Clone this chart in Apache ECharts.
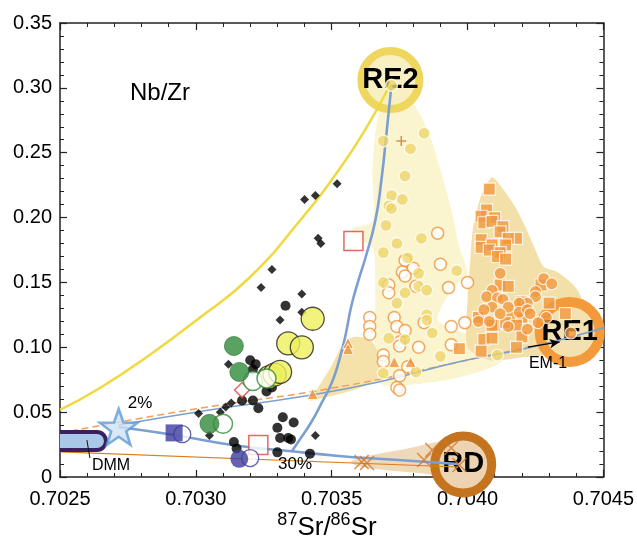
<!DOCTYPE html>
<html><head><meta charset="utf-8">
<script src="https://cdn.jsdelivr.net/npm/echarts@6/dist/echarts.min.js"></script>
<style>html,body{margin:0;padding:0;background:#fff}#c{width:637px;height:543px}</style>
</head><body><div id="c"></div>
<script>
// ---- axis / ticks ----
const xMin = 0.7025, xMax = 0.7045, xStep = 0.0005;
const yMin = 0, yMax = 0.35, yStep = 0.05;

// ---- fields (shaded regions) ----
const yellowField = [[0.70372,0.297],[0.70376,0.296],[0.70381,0.285],[0.70386,0.264],[0.70390,0.237],[0.70394,0.206],[0.70397,0.177],[0.70400,0.156],[0.70395,0.147],[0.70389,0.121],[0.70400,0.110],[0.70411,0.100],[0.70413,0.090],[0.70407,0.083],[0.70393,0.075],[0.70378,0.071],[0.70369,0.071],[0.70366,0.079],[0.70366,0.113],[0.70366,0.152],[0.70365,0.177],[0.70357,0.186],[0.70358,0.192],[0.70365,0.197],[0.70365,0.237],[0.70367,0.277]];
const tanField = [[0.70342,0.059],[0.70345,0.069],[0.70350,0.086],[0.70354,0.102],[0.70358,0.108],[0.70364,0.106],[0.70367,0.096],[0.70367,0.076],[0.70358,0.067],[0.70347,0.061]];
const re1Field = [[0.70409,0.231],[0.70412,0.225],[0.70417,0.210],[0.70421,0.194],[0.70425,0.175],[0.70428,0.162],[0.70433,0.158],[0.70439,0.148],[0.70442,0.137],[0.70441,0.110],[0.70433,0.096],[0.70419,0.092],[0.70408,0.090],[0.70400,0.100],[0.70400,0.137],[0.70401,0.167],[0.70402,0.192],[0.70405,0.217]];
const rdField = [[0.70357,0.012],[0.70365,0.017],[0.70378,0.022],[0.70389,0.027],[0.70397,0.027],[0.70397,-0.004],[0.70386,0.002],[0.70371,0.005],[0.70360,0.008]];

// ---- mixing curves ----
const yellowCurve = [[0.70250,0.0517],[0.702647,0.0686],[0.702830,0.0941],[0.703013,0.1226],[0.703196,0.1534],[0.703379,0.1966],[0.703526,0.2367],[0.703636,0.2722],[0.703716,0.3030]];
const blueLower = [[0.702716,0.0386],[0.702921,0.0324],[0.703134,0.0247],[0.703342,0.0200],[0.703526,0.0162],[0.703745,0.0131],[0.703965,0.0100]];
const blueToRE2 = [[0.703354,0.0200],[0.703379,0.0278],[0.703423,0.0416],[0.703463,0.0571],[0.703500,0.0725],[0.703526,0.0887],[0.703551,0.1095],[0.703573,0.1326],[0.703599,0.1519],[0.703625,0.1696],[0.703661,0.1981],[0.703683,0.2290],[0.703701,0.2637],[0.703720,0.3022]];
const blueThin = [[0.702716,0.0401],[0.703050,0.0517],[0.703379,0.0617],[0.703672,0.0732],[0.703965,0.0887],[0.704222,0.0995],[0.704500,0.1149]];
const orangeDashed = [[0.70250,0.0339],[0.702976,0.0517],[0.703526,0.0694],[0.704002,0.0902],[0.704258,0.1018]];
const orangeSolid = [[0.70250,0.0193],[0.703965,0.0077]];
const dmmBar = [[0.70240,0.0278],[0.702636,0.0278]];
const dmmPointer = [[0.702599,0.0285],[0.702610,0.0146]];
const em1Arrow = [[0.704222,0.1002],[0.704339,0.1041]];

// ---- end members ----
const re2 = [0.703716, 0.306];
const re1 = [0.704376, 0.1118];
const rd = [0.703984, 0.0097];
const star = [0.702716, 0.0386];

// ---- samples ----
const blackDots = [[0.70333,0.132],[0.70320,0.090],[0.70322,0.087],[0.70321,0.083],[0.70328,0.069],[0.70326,0.066],[0.70321,0.059],[0.70317,0.059],[0.70323,0.053],[0.70332,0.046],[0.70336,0.042],[0.70330,0.038],[0.70331,0.030],[0.70334,0.030],[0.70330,0.019],[0.70314,0.027],[0.70315,0.022],[0.70342,0.018],[0.70335,0.029]];
const blackDiamonds = [[0.70352,0.226],[0.70340,0.214],[0.70344,0.217],[0.70345,0.184],[0.70346,0.180],[0.70328,0.160],[0.70324,0.146],[0.70339,0.141],[0.70339,0.127],[0.70331,0.121],[0.70312,0.087],[0.70313,0.057],[0.70311,0.054],[0.70309,0.050],[0.70301,0.049],[0.70305,0.032],[0.70344,0.032]];
const greenFilled = [[0.70314,0.101],[0.70316,0.081],[0.70305,0.041]];
const greenOpen = [[0.70321,0.074],[0.70326,0.076],[0.70310,0.041]];
const yellowBig = [[0.70343,0.122],[0.70334,0.103],[0.70339,0.100],[0.70327,0.077],[0.70329,0.079],[0.70331,0.081]];
const navyOpen = [[0.70320,0.0146],[0.70295,0.033]];
const navyFilled = [[0.70316,0.014]];
const navySquare = [[0.70292,0.034]];
const redSquares = [[0.70358,0.182],[0.70323,0.0247]];
const redDiamond = [[0.70317,0.067]];
const orangeTriangles = [[0.70356,0.1033],[0.70356,0.0987],[0.70343,0.064],[0.70373,0.0887],[0.70379,0.0887]];
const orangeCrosses = [[0.70361,0.0116],[0.70363,0.0108],[0.70384,0.0131],[0.70387,0.0208],[0.70394,0.0224],[0.70397,0.0093]];
const plusMarks = [[0.703756,0.259]];
const yellowDots = [[0.70372,0.302],[0.70369,0.259],[0.70384,0.265],[0.70379,0.253],[0.70377,0.232],[0.70372,0.217],[0.70376,0.214],[0.70371,0.209],[0.70372,0.207],[0.70370,0.194],[0.70374,0.180],[0.70383,0.184],[0.70369,0.173],[0.70378,0.169],[0.70382,0.157],[0.70396,0.159],[0.70369,0.150],[0.70382,0.147],[0.70385,0.144],[0.70377,0.142],[0.70374,0.134],[0.70385,0.125],[0.70385,0.121],[0.70387,0.111],[0.70371,0.107],[0.70377,0.106],[0.70390,0.093],[0.70369,0.080],[0.70381,0.081],[0.70411,0.094]];
const orangeOpen = [[0.70389,0.188],[0.70390,0.164],[0.70377,0.167],[0.70380,0.161],[0.70376,0.158],[0.70377,0.155],[0.70381,0.147],[0.70371,0.148],[0.70371,0.142],[0.70393,0.146],[0.70400,0.150],[0.70364,0.123],[0.70364,0.116],[0.70364,0.110],[0.70373,0.123],[0.70374,0.116],[0.70377,0.113],[0.70384,0.119],[0.70394,0.116],[0.70399,0.119],[0.70375,0.104],[0.70375,0.101],[0.70382,0.100],[0.70394,0.102],[0.70369,0.094],[0.70369,0.089],[0.70378,0.085],[0.70375,0.078],[0.70374,0.069],[0.70375,0.067]];
const orangeSquares = [[0.70408,0.222],[0.70407,0.206],[0.70405,0.201],[0.70410,0.200],[0.70406,0.196],[0.70409,0.197],[0.70413,0.193],[0.70412,0.189],[0.70418,0.184],[0.70415,0.184],[0.70405,0.183],[0.70405,0.177],[0.70409,0.179],[0.70408,0.175],[0.70414,0.179],[0.70412,0.173],[0.70411,0.170],[0.70414,0.168],[0.70412,0.148],[0.70415,0.147],[0.70427,0.148],[0.70420,0.135],[0.70430,0.134],[0.70416,0.123],[0.70404,0.123],[0.70410,0.117],[0.70409,0.117],[0.70414,0.119],[0.70420,0.123],[0.70418,0.117],[0.70406,0.106],[0.70409,0.107],[0.70420,0.108],[0.70418,0.100],[0.70405,0.097],[0.70436,0.126],[0.70397,0.099]];
const orangeDots = [[0.70412,0.157],[0.70428,0.153],[0.70431,0.149],[0.70409,0.144],[0.70407,0.139],[0.70411,0.138],[0.70413,0.137],[0.70425,0.143],[0.70425,0.139],[0.70422,0.134],[0.70419,0.134],[0.70415,0.131],[0.70409,0.131],[0.70406,0.129],[0.70412,0.126],[0.70419,0.127],[0.70422,0.129],[0.70423,0.126],[0.70404,0.120],[0.70408,0.120],[0.70415,0.116],[0.70422,0.114],[0.70429,0.123],[0.70426,0.119],[0.70438,0.111]];

const FONT = 'Liberation Sans, Arial, Helvetica, sans-serif';
const chart = echarts.init(document.getElementById('c'), null, {renderer:'canvas'});

function poly(data, color, z){
  return {type:'custom', z:z, silent:true, clip:true, data:[data[0]],
    renderItem:function(params, api){
      const pts = data.map(p => api.coord(p));
      return {type:'polygon', shape:{points:pts, smooth:0.25}, style:{fill:color}};
    }};
}
function capsule(data, z){
  return {type:'custom', z:z, silent:true, clip:true, data:[data[0]],
    renderItem:function(params, api){
      const a = api.coord(data[0]), b = api.coord(data[1]);
      const w = b[0]-a[0];
      return {type:'group', children:[
        {type:'rect', shape:{x:a[0]-11, y:a[1]-11, width:w+22, height:22, r:11}, style:{fill:'#3a2060'}},
        {type:'rect', shape:{x:a[0]-7, y:a[1]-7, width:w+14, height:14, r:7}, style:{fill:'#a9c8e8'}}
      ]};
    }};
}
function line(data, color, width, z, extra){
  return Object.assign({type:'line', data:data, z:z, silent:true, symbol:'none', smooth:true, clip:true,
    lineStyle:{color:color, width:width}}, extra||{});
}
function scat(data, symbol, size, style, z){
  return {type:'scatter', data:data, symbol:symbol, symbolSize:size, itemStyle:style, z:z, silent:true};
}
function ring(pos, name, size, fill, border, bw, z){
  return {type:'scatter', z:z, silent:true, data:[{value:pos, name:name}], symbolSize:size,
    itemStyle:{color:fill, borderColor:border, borderWidth:bw, opacity:1},
    label:{show:true, position:'inside', formatter:'{b}', fontSize:29, fontWeight:'bold', color:'#000',
      fontFamily:'Liberation Sans Narrow, Liberation Sans, Arial'}};
}

const axisCommon = {
  type:'value', splitLine:{show:false},
  axisLine:{show:true, onZero:false, lineStyle:{color:'#222', width:1.5}},
  axisTick:{show:true, inside:true, length:7, lineStyle:{color:'#222', width:1.2}},
  minorTick:{show:true, splitNumber:5, length:4, lineStyle:{color:'#222', width:1}},
};
const xa = Object.assign({}, axisCommon, {min:xMin, max:xMax, interval:xStep});
const ya = Object.assign({}, axisCommon, {min:yMin, max:yMax, interval:yStep});

const option = {
  animation:false,
  backgroundColor:'#fff',
  grid:{left:60, right:31, top:23, bottom:66},
  xAxis:[
    Object.assign({}, xa, {position:'bottom', axisLabel:{margin:12, fontSize:20, color:'#000', fontFamily:FONT, formatter:v=>v.toFixed(4)}}),
    Object.assign({}, xa, {position:'top', axisLabel:{show:false}})
  ],
  yAxis:[
    Object.assign({}, ya, {position:'left', axisLabel:{margin:8, fontSize:20, color:'#000', fontFamily:FONT, formatter:v=> v===0?'0':v.toFixed(2)}}),
    Object.assign({}, ya, {position:'right', axisLabel:{show:false}})
  ],
  series:[
    poly(yellowField, '#faf4cf', 1),
    poly(tanField, '#f4e2aa', 1),
    poly(re1Field, '#f3e0a8', 1),
    poly(rdField, '#f0d9bb', 1),
    ring(re2, 'RE2', 58, '#f8f0c2', '#efd65e', 8, 2),
    ring(re1, 'RE1', 60, '#f3e1b0', '#f39a3c', 10, 2),
    ring(rd, 'RD', 57, '#eed3b2', '#c4741f', 9, 2),
    line(yellowCurve, '#f0d93f', 2.5, 3),
    line(orangeSolid, '#d8801f', 1.2, 3, {smooth:false}),
    line(orangeDashed, '#f2a055', 1.5, 3, {lineStyle:{color:'#f2a055', width:1.5, type:[7,4]}}),
    line(blueThin, '#7c9fd1', 1.5, 3),
    line(blueLower, '#7c9fd1', 2.6, 3),
    line(blueToRE2, '#7c9fd1', 2.6, 3),
    capsule(dmmBar, 4),
    line(dmmPointer, '#111', 1, 4, {smooth:false}),
    {type:'line', data:[], z:4, silent:true, markLine:{silent:true, symbol:['none','arrow'], symbolSize:[7,10], label:{show:false},
      lineStyle:{color:'#000', width:1.3, type:'solid'}, data:[[{coord:em1Arrow[0]},{coord:em1Arrow[1]}]]}},
    scat([star], 'path://M50,2 L61.8,36.2 L97.6,36.9 L69,58.7 L79.4,93.1 L50,72.5 L20.6,93.1 L31,58.7 L2.4,36.9 L38.2,36.2 Z', [38,36], {color:'#cfe2f4', borderColor:'#5e9ad6', borderWidth:2.5}, 5),
    scat(orangeOpen, 'circle', 12, {color:'#fff', borderColor:'#f0953c', borderWidth:1.5}, 5),
    scat(yellowDots, 'circle', 12, {color:'#eed66a', borderColor:'#fff', borderWidth:1.3}, 5),
    scat(orangeSquares, 'rect', 12, {color:'#f0983f', borderColor:'#fff', borderWidth:1.2}, 5),
    scat(orangeDots, 'circle', 12, {color:'#f0983f', borderColor:'#fff', borderWidth:1.2}, 5),
    scat(orangeTriangles, 'triangle', 11, {color:'#f0903a', borderColor:'#fff', borderWidth:1}, 5),
    scat(orangeCrosses, 'path://M0,0 L10,10 M10,0 L0,10', 14, {color:'rgba(0,0,0,0)', borderColor:'#d0782a', borderWidth:1.5}, 6),
    scat(plusMarks, 'path://M5,0 L5,10 M0,5 L10,5', 10, {color:'rgba(0,0,0,0)', borderColor:'#c87a30', borderWidth:1.5}, 6),
    scat(blackDiamonds, 'diamond', 9, {color:'#000'}, 5),
    scat(blackDots, 'circle', 10, {color:'#000'}, 5),
    scat(redSquares, 'rect', 19, {color:'#fff', borderColor:'#e0413e', borderWidth:1.5}, 5),
    scat(redDiamond, 'diamond', 15, {color:'#fff', borderColor:'#e0413e', borderWidth:1.5}, 5),
    scat(yellowBig, 'circle', 23, {color:'#eef05c', borderColor:'#222', borderWidth:1.3}, 6),
    scat(greenOpen, 'circle', 19, {color:'#fff', borderColor:'#2e8a38', borderWidth:1.5}, 6),
    scat(greenFilled, 'circle', 19, {color:'#2f8b3a', borderColor:'#2a6f30', borderWidth:0.8}, 7),
    scat(navyOpen, 'circle', 17, {color:'#fff', borderColor:'#3c3c9c', borderWidth:1.3}, 6),
    scat(navyFilled, 'circle', 18, {color:'#3c3c9c'}, 7),
    scat(navySquare, 'rect', 17, {color:'#3c3c9c'}, 7)
  ],
  graphic:[]
};
chart.setOption(option);

// ---- annotation text ----
const ctx = document.createElement('canvas').getContext('2d');
function tw(t, s){ ctx.font = s + 'px "Liberation Sans"'; return ctx.measureText(t).width; }
const g = [];
function txt(t, x, y, size, align){
  g.push({type:'text', x:x, y:y, z:100, style:{text:t, fontSize:size, fontFamily:FONT, fill:'#000', align:align||'center', verticalAlign:'middle'}});
}
txt('Nb/Zr', 160, 93, 24);
txt('2%', 140, 403, 17);
txt('DMM', 111, 466, 16);
txt('30%', 295, 464, 17);
txt('EM-1', 548, 364, 16);
// x axis title with superscripts
const parts = [['87',18,-8],['Sr/',26,0],['86',18,-8],['Sr',26,0]];
let W = 0; parts.forEach(p => W += tw(p[0], p[1]));
let cx = 327 - W/2;
parts.forEach(p => { txt(p[0], cx, 528 + p[2], p[1], 'left'); cx += tw(p[0], p[1]); });
chart.setOption({graphic:g});
</script></body></html>
